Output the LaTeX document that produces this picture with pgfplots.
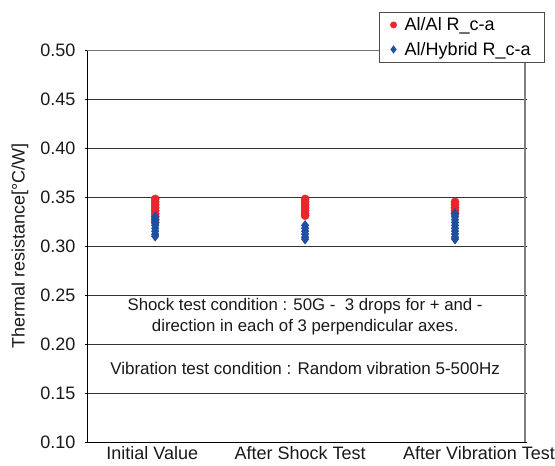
\documentclass[border=0pt]{standalone}
\usepackage{pgfplots}
\pgfplotsset{compat=1.18}
\usepackage{fontspec}
\setmainfont{Liberation Sans}
\definecolor{myred}{HTML}{E8262B}
\definecolor{myblue}{HTML}{1F4FA0}
\begin{document}
\begin{tikzpicture}
\useasboundingbox (-87bp,-24bp) rectangle (468bp,442bp);
\begin{axis}[
  at={(0,0)}, anchor=south west,
  scale only axis, width=438bp, height=392bp,
  xmin=-0.455, xmax=2.467,
  ymin=0.10, ymax=0.50,
  ytick={0.10,0.15,...,0.50},
  yticklabel style={/pgf/number format/fixed, /pgf/number format/fixed zerofill, /pgf/number format/precision=2},
  /pgf/number format/assume math mode=true,
  xtick={-0.02,0.967,2.16},
  xticklabels={Initial Value, After Shock Test, After Vibration Test},
  major x tick style={draw=none},
  major y tick style={draw=black, line width=0.5pt},
  tick align=outside,
  major tick length=2bp,
  ymajorgrids,
  major grid style={draw=black!80, line width=0.6pt},
  axis line style={draw=none},
  tick label style={font=\fontsize{18bp}{21bp}\selectfont, text=black!90},
  xticklabel style={yshift=1bp},
  yticklabel style={xshift=-6bp},
  ylabel={Thermal resistance[°C/W]},
  every axis y label/.style={at={(axis description cs:-0.153,0.5)}, rotate=90, anchor=center},
  ylabel style={font=\fontsize{18bp}{21bp}\selectfont, text=black!90},
  legend style={at={(0.667,1.097)}, anchor=north west,
    font=\fontsize{18bp}{21bp}\selectfont, draw=black!70,
    row sep=6bp, inner xsep=11bp, inner ysep=3.5bp, fill=white,
    /tikz/every odd column/.append style={column sep=6bp}},
  legend cell align=left,
  clip=false,
]
\addplot[only marks, mark=*, mark size=4.1bp, color=myred, mark options={draw=myred, fill=myred}, legend image post style={mark size=3.2bp}] coordinates {
(0,0.348) (0,0.345) (0,0.342) (0,0.339) (0,0.336) (0,0.333) (0,0.330) (0,0.327) (0,0.324)
(1,0.348) (1,0.345) (1,0.342) (1,0.339) (1,0.336) (1,0.333) (1,0.331)
(2,0.345) (2,0.342) (2,0.339) (2,0.336) (2,0.333)
};
\addlegendentry{Al/Al R\_c-a}
\addplot[only marks, mark=diamond*, mark size=5bp, color=myblue, mark options={draw=myblue, fill=myblue}, legend image post style={mark size=3.8bp}] coordinates {
(0,0.330) (0,0.327) (0,0.324) (0,0.321) (0,0.318) (0,0.315) (0,0.312) (0,0.310)
(1,0.321) (1,0.318) (1,0.315) (1,0.312) (1,0.309) (1,0.307)
(2,0.333) (2,0.330) (2,0.327) (2,0.324) (2,0.321) (2,0.318) (2,0.315) (2,0.312) (2,0.309) (2,0.307)
};
\addlegendentry{Al/Hybrid R\_c-a}
\draw[black, line width=0.6pt] (axis description cs:0,0) -- (axis description cs:0,1);
\draw[black, line width=0.6pt] (axis description cs:0,0) -- (axis description cs:1,0);
\draw[black!55, line width=0.6pt] (axis description cs:0,1) -- (axis description cs:1,1);
\draw[black!50, line width=1.6pt] (axis description cs:1,0) -- (axis description cs:1,1);
\node[font=\fontsize{16.8bp}{21bp}\selectfont, align=center, text=black!90] at (axis cs:1,0.2276) {Shock test condition : 50G -~~3 drops for + and -\\direction in each of 3 perpendicular axes.};
\node[font=\fontsize{17bp}{20bp}\selectfont, text=black!90] at (axis cs:1,0.1755) {Vibration test condition : Random vibration 5-500Hz};
\end{axis}
\end{tikzpicture}
\end{document}
